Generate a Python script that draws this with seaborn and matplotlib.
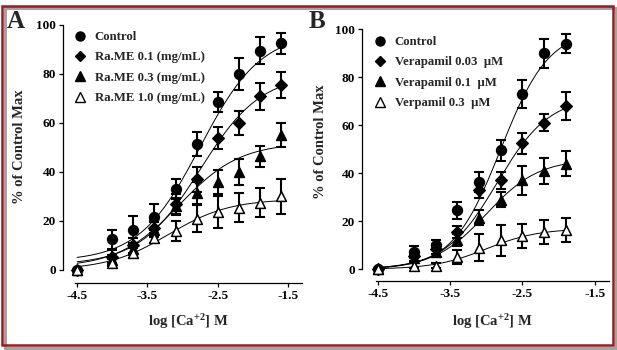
import numpy as np
import matplotlib
matplotlib.use("Agg")
import matplotlib.pyplot as plt
import seaborn as sns
from matplotlib.lines import Line2D
from matplotlib.patches import Rectangle

# log [Ca+2] concentrations
log_ca_a = [-4.5, -4.0, -3.7, -3.4, -3.1, -2.8, -2.5, -2.2, -1.9, -1.6]
log_ca_b = [-4.5, -4.0, -3.7, -3.4, -3.1, -2.8, -2.5, -2.2, -1.9]

# Panel A: % of control max (mean, SEM)
labels_a = ["Control", "Ra.ME 0.1 (mg/mL)", "Ra.ME 0.3 (mg/mL)", "Ra.ME 1.0 (mg/mL)"]
control_a = [0, 12.5, 16.5, 21.5, 33, 51.5, 68.5, 80, 89.5, 92.5]
control_a_err = [0, 4, 5.5, 5.3, 4, 5, 4.2, 6.5, 5.4, 4.3]
rame01 = [0, 5.5, 10, 17, 27, 37, 54, 60, 71, 75.5]
rame01_err = [0, 2.5, 3, 3.5, 4, 5, 4.5, 5, 5.5, 5.5]
rame03 = [0, 4, 8.5, 16.5, 26, 31.5, 36, 40, 46.5, 55]
rame03_err = [0, 2, 2.5, 3, 3.5, 4.5, 5, 5.5, 4.3, 5]
rame10 = [0, 3, 7, 13, 16, 21, 23.5, 25.5, 27.5, 30]
rame10_err = [0, 1.5, 2, 2, 4, 5.5, 6.5, 6, 6, 7]

# Panel B
labels_b = ["Control", "Verapamil 0.03  \u00b5M", "Verapamil 0.1  \u00b5M", "Verpamil 0.3  \u00b5M"]
control_b = [0, 7, 10, 24.5, 36.5, 49.5, 73, 90, 94]
control_b_err = [0, 2.5, 2, 3.5, 4.2, 4.5, 6, 6, 4]
vera003 = [0, 5.5, 8.5, 15.5, 33, 37, 52.5, 61, 68]
vera003_err = [0, 2, 2, 2.5, 3.5, 3.5, 4.3, 3.5, 6]
vera01 = [0, 4.5, 7, 12, 21.5, 29, 37, 41, 44]
vera01_err = [0, 2, 2, 2.5, 3, 3, 6, 5.5, 5.3]
vera03 = [0, 1.5, 1.5, 5, 9, 12, 14, 15.5, 16.5]
vera03_err = [0, 1, 1, 3, 5.5, 6.5, 5, 5, 5]

# fitted sigmoid parameters: bottom, top, logEC50, hill slope
fit_a = [(3.5, 97, -2.75, 1.0), (2.0, 80, -2.75, 1.0), (1.0, 52, -3.05, 1.0), (0.0, 29, -3.2, 1.0)]
fit_b = [(0.0, 100, -2.8, 1.3), (0.0, 72, -2.85, 1.2), (0.0, 46, -3.0, 1.2), (0.0, 17, -3.0, 1.2)]

markers = ["o", "D", "^", "^"]
msizes = [50, 34, 50, 50]
faces = ["black", "black", "black", "white"]

sns.set_style("ticks")
plt.rcParams["font.family"] = ["Liberation Serif", "DejaVu Serif"]
plt.rcParams["font.weight"] = "bold"
plt.rcParams["mathtext.fontset"] = "custom"
plt.rcParams["mathtext.rm"] = "Liberation Serif:bold"
plt.rcParams["mathtext.default"] = "rm"


def hill(x, b, t, ec, h):
    return b + (t - b) / (1 + 10 ** ((ec - x) * h))


def draw_panel(ax, xs, series, errs, fits, labels, x_end, left_out, bottom_out):
    xs = np.array(xs)
    grid = np.linspace(-4.5, x_end, 200)
    for ys, es, fit, m, s, fc, lab in zip(series, errs, fits, markers, msizes, faces, labels):
        sns.lineplot(x=grid, y=hill(grid, *fit), ax=ax, color="black", lw=0.7)
        ax.errorbar(xs, ys, yerr=es, fmt="none", ecolor="black", elinewidth=1.5,
                    capsize=3.5, capthick=1.5, clip_on=False, zorder=3)
        sns.scatterplot(x=xs, y=ys, ax=ax, marker=m, s=s, color=fc, edgecolor="black",
                        linewidth=1.1, zorder=4, clip_on=False)
    ax.set_xlim(-4.53, -1.3)
    ax.set_ylim(0, 100)
    ax.set_xticks([-4.5, -3.5, -2.5, -1.5])
    ax.set_xticklabels(["-4.5", "-3.5", "-2.5", "-1.5"])
    ax.set_yticks([0, 20, 40, 60, 80, 100])
    ax.spines["right"].set_visible(False)
    ax.spines["top"].set_visible(False)
    ax.spines["left"].set_position(("outward", left_out))
    ax.spines["bottom"].set_position(("outward", bottom_out))
    ax.spines["left"].set_bounds(0, 100)
    ax.spines["bottom"].set_bounds(-4.53, -1.3)
    for sp in ["left", "bottom"]:
        ax.spines[sp].set_linewidth(0.9)
        ax.spines[sp].set_color("black")
    ax.tick_params(direction="out", length=3, width=0.9, labelsize=9.5, pad=2, colors="black")
    ax.set_xlabel("")
    ax.set_ylabel("")
    handles = [Line2D([], [], ls="none", marker=m, markersize=ms, markerfacecolor=fc,
                      markeredgecolor="black", color="black")
               for m, ms, fc in zip(markers, [6.5, 5.5, 7, 7], faces)]
    return handles


fig = plt.figure(figsize=(6.17, 3.5), dpi=100)
ax_a = fig.add_axes([0.1216, 0.2286, 0.3679, 0.70])
ax_b = fig.add_axes([0.6086, 0.2306, 0.3788, 0.6857])

h_a = draw_panel(ax_a, log_ca_a, [control_a, rame01, rame03, rame10],
                 [control_a_err, rame01_err, rame03_err, rame10_err], fit_a, labels_a, -1.6, 8.6, 9.4)
h_b = draw_panel(ax_b, log_ca_b, [control_b, vera003, vera01, vera03],
                 [control_b_err, vera003_err, vera01_err, vera03_err], fit_b, labels_b, -1.9, 9.9, 8.2)

for ax, h, labs, anchor in [(ax_a, h_a, labels_a, (75 / 617, 1 - 31 / 350)),
                            (ax_b, h_b, labels_b, (375 / 617, 1 - 36 / 350))]:
    ax.legend(h, labs, loc="upper left", bbox_to_anchor=anchor, bbox_transform=fig.transFigure,
              frameon=False, fontsize=9.2, handlelength=0.8, handletextpad=0.75,
              labelspacing=0.66, borderpad=0, borderaxespad=0)

xlab = r"log [Ca$^{+2}$] M"
fig.text(188 / 617, 1 - 322 / 350, xlab, ha="center", va="center", fontsize=10.5, fontweight="bold")
fig.text(492 / 617, 1 - 322 / 350, xlab, ha="center", va="center", fontsize=10.5, fontweight="bold")
fig.text(20 / 617, 1 - 147 / 350, "% of Control Max", rotation=90, ha="center", va="center",
         fontsize=10.5, fontweight="bold")
fig.text(321 / 617, 1 - 142 / 350, "% of Control Max", rotation=90, ha="center", va="center",
         fontsize=10.5, fontweight="bold")
fig.text(16 / 617, 1 - 21 / 350, "A", ha="center", va="center", fontsize=18, fontweight="bold")
fig.text(317 / 617, 1 - 21 / 350, "B", ha="center", va="center", fontsize=18, fontweight="bold")

# frame with drop shadow
fig.patches.append(Rectangle((5 / 617, 2 / 350), 611 / 617, 340 / 350, transform=fig.transFigure,
                             fill=False, ec="#a3a3a3", lw=2.2, zorder=0))
fig.patches.append(Rectangle((2 / 617, 5 / 350), 611 / 617, 339 / 350, transform=fig.transFigure,
                             fill=False, ec="#9b1c1c", lw=1.8, zorder=1))

fig.savefig("out.png", dpi=100)
